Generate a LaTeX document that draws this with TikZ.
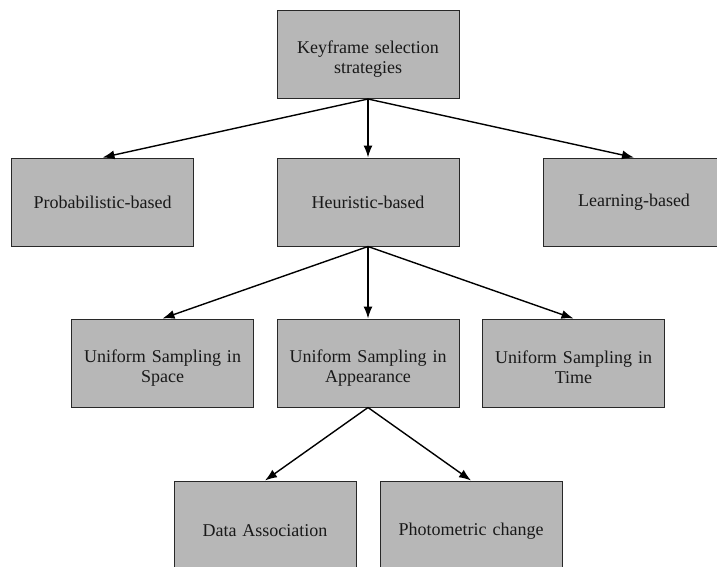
\documentclass[tikz,border=0pt]{standalone}
\usepackage{fontspec}
\setmainfont{Liberation Serif}
\usetikzlibrary{arrows.meta}
\definecolor{boxfill}{RGB}{183,183,183}
\definecolor{boxline}{RGB}{40,40,40}
\definecolor{txt}{RGB}{25,25,25}
\newcommand{\lowtxt}{\rule{0pt}{22pt}}
\begin{document}
\begin{tikzpicture}[x=1pt,y=-1pt,
  box/.style={rectangle, draw=boxline, fill=boxfill, line width=1pt,
    minimum width=182pt, minimum height=88pt, text width=172pt, align=center,
    inner sep=0pt, text=txt, font=\fontsize{18}{20}\selectfont},
  tallbox/.style={box, minimum height=100pt},
  arr/.style={draw=black, line width=1.4pt, -{Latex[length=12pt,width=9pt]}}]
\useasboundingbox (0,0) rectangle (717,566);
\clip (0,0) rectangle (717,566);
\node[box] (top) at (368,54.5) {\lowtxt Keyframe selection\\strategies};
\node[box] (prob) at (102.5,202) {Probabilistic-based};
\node[box] (heur) at (368,202) {Heuristic-based};
\node[box] (learn) at (634,202) {Learning-based};
\node[box] (space) at (162.5,363) {\lowtxt Uniform Sampling in\\Space};
\node[box] (appear) at (368,363) {\lowtxt Uniform Sampling in\\Appearance};
\node[box] (time) at (573.5,363) {\lowtxt Uniform Sampling in\\Time};
\node[tallbox] (data) at (265,531) {Data Association};
\node[tallbox] (photo) at (471,531) {Photometric change};
\draw[arr] (top.south) -- (prob.north);
\draw[arr] (top.south) -- (heur.north);
\draw[arr] (top.south) -- (learn.north);
\draw[arr] (heur.south) -- (space.north);
\draw[arr] (heur.south) -- (appear.north);
\draw[arr] (heur.south) -- (time.north);
\draw[arr] (appear.south) -- (data.north);
\draw[arr] (appear.south) -- (photo.north);
\end{tikzpicture}
\end{document}
